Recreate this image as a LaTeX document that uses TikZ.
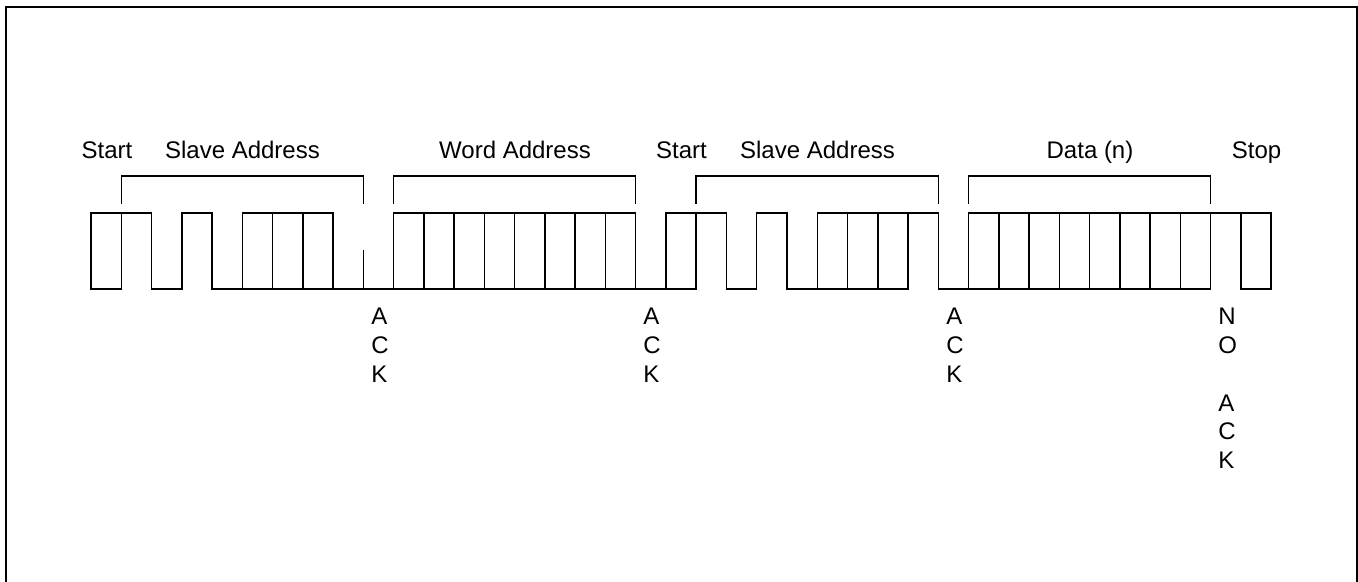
\documentclass[tikz,border=0pt]{standalone}
\usepackage{fontspec}
\setmainfont{Liberation Sans}
\usetikzlibrary{positioning}

\tikzset{
    wave/.style={line width=0.75pt, line cap=rect},
    frameline/.style={line width=1.1pt},
    fieldlabel/.style={anchor=base, inner sep=0pt, font=\fontsize{12}{14}\selectfont},
    acklabel/.style={anchor=north west, inner sep=0pt, align=left, font=\fontsize{12}{14.35}\selectfont}
}

\begin{document}
\begin{tikzpicture}[x=0.5pt, y=-0.5pt]
    \useasboundingbox (0,0) rectangle (1358,582);

    % Outer frame
    \draw[frameline] (6,582) -- (6,7) -- (1357,7) -- (1357,582);

    % Field labels
    \node[fieldlabel] (start1) at (107,159) {Start};
    \node[fieldlabel] (slave1) at (242.5,159) {Slave Address};
    \node[fieldlabel] (word) at (515,159) {Word Address};
    \node[fieldlabel] (start2) at (681.5,159) {Start};
    \node[fieldlabel] (slave2) at (817.5,159) {Slave Address};
    \node[fieldlabel] (data) at (1090,159) {Data (n)};
    \node[fieldlabel] (stop) at (1256.5,159) {Stop};

    % Bit clock positions
    \begin{scope}[xshift=45.5pt, x=15.13pt]
        % Vertical edges
        \foreach \i in {0,...,8,10,11,...,39}
            \draw[wave] (\i,213) -- (\i,289);
        \draw[wave] (9,251) -- (9,289);

        % High level
        \foreach \a/\b in {0/2, 3/4, 5/8, 10/18, 19/21, 22/23, 24/28, 29/39}
            \draw[wave] (\a,213) -- (\b,213);

        % Low level
        \foreach \a/\b in {0/1, 2/3, 4/18, 18/20, 21/22, 23/27, 28/37, 38/39}
            \draw[wave] (\a,289) -- (\b,289);

        % Brackets
        \foreach \a/\b in {1/9, 10/18, 20/28, 29/37}
            \draw[wave] (\a,203) -- (\a,176) -- (\b,176) -- (\b,203);
    \end{scope}

    % Acknowledge labels
    \node[acklabel] (ack1) at (371,308) {A\\C\\K};
    \node[acklabel] (ack2) at (643,308) {A\\C\\K};
    \node[acklabel] (ack3) at (946,308) {A\\C\\K};
    \node[acklabel] (noack) at (1218,308) {N\\O\\[14.35pt]A\\C\\K};
\end{tikzpicture}
\end{document}
